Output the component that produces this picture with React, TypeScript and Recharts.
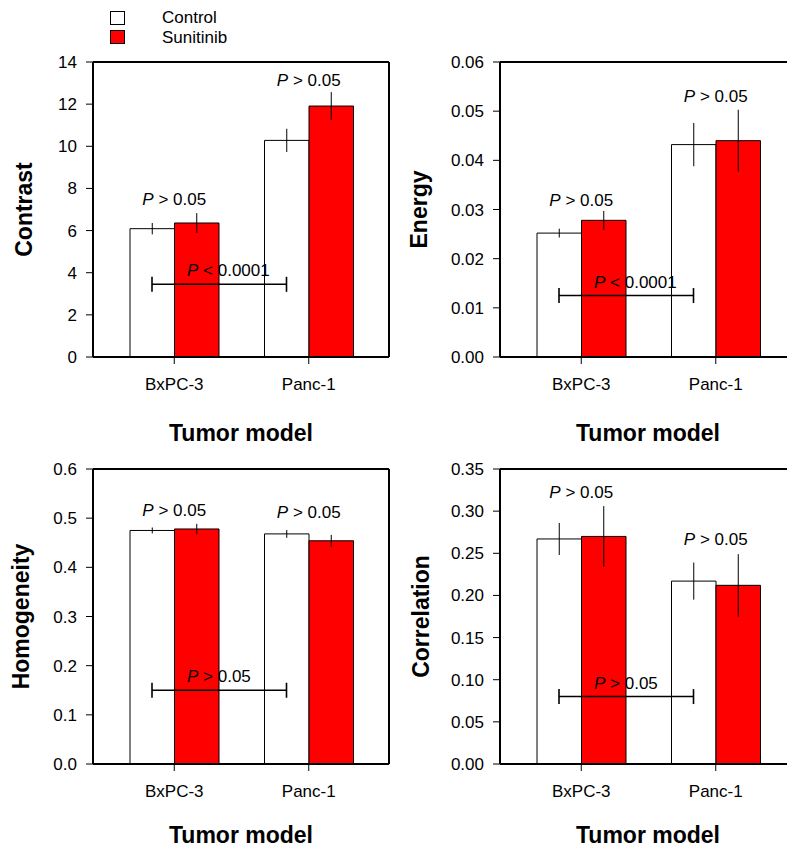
import React from "react";
import {
  BarChart,
  Bar,
  XAxis,
  YAxis,
  ErrorBar,
  ReferenceLine,
  ReferenceDot,
  Legend,
} from "recharts";

const categories = ["BxPC-3", "Panc-1"];
const seriesNames = ["Control", "Sunitinib"];
const seriesColors = ["#ffffff", "#ff0000"];

const contrastControl = [6.09, 10.28];
const contrastControlErr = [0.27, 0.55];
const contrastSunitinib = [6.36, 11.91];
const contrastSunitinibErr = [0.47, 0.66];
const contrastTicks = [0, 2, 4, 6, 8, 10, 12, 14];
const contrastGroupP = ["P > 0.05", "P > 0.05"];
const contrastGroupPY = [7.48, 13.13];
const contrastBracketY = 3.45;
const contrastBracketP = "P < 0.0001";

const energyControl = [0.0252, 0.0432];
const energyControlErr = [0.0009, 0.0044];
const energySunitinib = [0.0278, 0.044];
const energySunitinibErr = [0.0019, 0.0063];
const energyTicks = [0, 0.01, 0.02, 0.03, 0.04, 0.05, 0.06];
const energyGroupP = ["P > 0.05", "P > 0.05"];
const energyGroupPY = [0.032, 0.0531];
const energyBracketY = 0.0125;
const energyBracketP = "P < 0.0001";

const homogeneityControl = [0.475, 0.468];
const homogeneityControlErr = [0.006, 0.008];
const homogeneitySunitinib = [0.478, 0.454];
const homogeneitySunitinibErr = [0.0105, 0.012];
const homogeneityTicks = [0, 0.1, 0.2, 0.3, 0.4, 0.5, 0.6];
const homogeneityGroupP = ["P > 0.05", "P > 0.05"];
const homogeneityGroupPY = [0.5166, 0.513];
const homogeneityBracketY = 0.15;
const homogeneityBracketP = "P > 0.05";

const correlationControl = [0.267, 0.217];
const correlationControlErr = [0.019, 0.022];
const correlationSunitinib = [0.27, 0.212];
const correlationSunitinibErr = [0.036, 0.037];
const correlationTicks = [0, 0.05, 0.1, 0.15, 0.2, 0.25, 0.3, 0.35];
const correlationGroupP = ["P > 0.05", "P > 0.05"];
const correlationGroupPY = [0.323, 0.2666];
const correlationBracketY = 0.08;
const correlationBracketP = "P > 0.05";

const FONT = "Arial, 'Liberation Sans', sans-serif";
const BAR = 44.5;

function rows(c: number[], ce: number[], s: number[], se: number[]) {
  return categories.map((name, i) => ({
    name,
    control: c[i],
    controlErr: ce[i],
    sunitinib: s[i],
    sunitinibErr: se[i],
  }));
}

function PText({ x, y, text, anchor = "middle" }: any) {
  return (
    <text
      x={x}
      y={y}
      textAnchor={anchor}
      fontFamily={FONT}
      fontSize={17}
      fill="#000"
    >
      <tspan fontStyle="italic">{text.slice(0, 1)}</tspan>
      <tspan>{text.slice(1)}</tspan>
    </text>
  );
}

function Bracket(props: any) {
  const { x1, x2, y1, text } = props;
  const a = x1 - BAR / 2;
  const b = x2 - BAR / 2;
  return (
    <g>
      <line x1={a} y1={y1} x2={b} y2={y1} stroke="#000" strokeWidth={1.6} />
      <line x1={a} y1={y1 - 7.5} x2={a} y2={y1 + 7.5} stroke="#000" strokeWidth={1.6} />
      <line x1={b} y1={y1 - 7.5} x2={b} y2={y1 + 7.5} stroke="#000" strokeWidth={1.6} />
      <PText x={a + 35} y={y1 - 8} text={text} anchor="start" />
    </g>
  );
}

function LegendBox() {
  return (
    <div style={{ fontFamily: FONT, fontSize: 17, color: "#000" }}>
      {seriesNames.map((n, i) => (
        <div
          key={n}
          style={{ display: "flex", alignItems: "center", height: 19.5 }}
        >
          <span
            style={{
              display: "inline-block",
              width: 13,
              height: 12,
              border: "1px solid #000",
              background: seriesColors[i],
            }}
          />
          <span style={{ marginLeft: 37, lineHeight: "19px" }}>{n}</span>
        </div>
      ))}
    </div>
  );
}

interface PanelProps {
  left: number;
  top: number;
  data: any[];
  ticks: number[];
  digits: number;
  title: string;
  titleX: number;
  xTitleY: number;
  groupP: string[];
  groupPY: number[];
  bracketY: number;
  bracketP: string;
  legend?: boolean;
}

function Panel(p: PanelProps) {
  const domain = [0, p.ticks[p.ticks.length - 1]];
  const axisLine = { stroke: "#000", strokeWidth: 2 };
  const tickStyle = { fill: "#000", fontSize: 17, fontFamily: FONT };
  return (
    <div style={{ position: "absolute", left: p.left, top: p.top }}>
      <BarChart
        width={407}
        height={450}
        data={p.data}
        margin={{ top: 61, right: 17, left: 0, bottom: 8 }}
        barGap={0}
      >
        <XAxis
          dataKey="name"
          height={85}
          padding={{ left: 14, right: 13 }}
          axisLine={axisLine}
          tickLine={{ stroke: "#000", strokeWidth: 1 }}
          tickSize={7}
          tickMargin={14}
          tick={tickStyle}
          label={{
            content: (lp: any) => {
              const vb = lp.viewBox;
              return (
                <text
                  x={vb.x + vb.width / 2}
                  y={vb.y + p.xTitleY}
                  textAnchor="middle"
                  fontFamily={FONT}
                  fontWeight="bold"
                  fontSize={23}
                  fill="#000"
                >
                  Tumor model
                </text>
              );
            },
          }}
        />
        <XAxis
          xAxisId="top"
          orientation="top"
          dataKey="name"
          height={1}
          tick={false}
          tickLine={false}
          axisLine={axisLine}
        />
        <YAxis
          width={93}
          domain={domain}
          ticks={p.ticks}
          interval={0}
          axisLine={axisLine}
          tickLine={{ stroke: "#000", strokeWidth: 1 }}
          tickSize={7}
          tickMargin={9}
          tick={tickStyle}
          tickFormatter={(v: number) => v.toFixed(p.digits)}
          label={{
            content: (lp: any) => {
              const vb = lp.viewBox;
              const cy = vb.y + vb.height / 2;
              return (
                <text
                  x={p.titleX}
                  y={cy}
                  transform={`rotate(-90, ${p.titleX}, ${cy})`}
                  textAnchor="middle"
                  fontFamily={FONT}
                  fontWeight="bold"
                  fontSize={23}
                  fill="#000"
                >
                  {p.title}
                </text>
              );
            },
          }}
        />
        <YAxis
          yAxisId="right"
          orientation="right"
          width={1}
          domain={domain}
          tick={false}
          tickLine={false}
          axisLine={axisLine}
        />
        {p.legend && (
          <Legend
            layout="vertical"
            align="center"
            verticalAlign="middle"
            content={() => <LegendBox />}
            wrapperStyle={{ top: 8, left: 110, width: 200, height: 40 }}
          />
        )}
        <Bar
          dataKey="control"
          name={seriesNames[0]}
          fill={seriesColors[0]}
          stroke="#000"
          strokeWidth={1}
          barSize={BAR}
          isAnimationActive={false}
        >
          <ErrorBar
            dataKey="controlErr"
            width={0}
            stroke="#000"
            strokeWidth={1}
            direction="y"
          />
        </Bar>
        <Bar
          dataKey="sunitinib"
          name={seriesNames[1]}
          fill={seriesColors[1]}
          stroke="#000"
          strokeWidth={1}
          barSize={BAR}
          isAnimationActive={false}
        >
          <ErrorBar
            dataKey="sunitinibErr"
            width={0}
            stroke="#000"
            strokeWidth={1}
            direction="y"
          />
        </Bar>
        {categories.map((c, i) => (
          <ReferenceDot
            key={c}
            x={c}
            y={p.groupPY[i]}
            r={0}
            shape={(sp: any) => (
              <g transform={`translate(0, 6)`}>
                <PText x={sp.cx} y={sp.cy} text={p.groupP[i]} />
              </g>
            )}
          />
        ))}
        <ReferenceLine
          segment={[
            { x: categories[0], y: p.bracketY },
            { x: categories[1], y: p.bracketY },
          ]}
          shape={(lp: any) => <Bracket {...lp} text={p.bracketP} />}
        />
      </BarChart>
    </div>
  );
}

export default function App() {
  return (
    <div
      style={{
        position: "absolute",
        left: 0,
        top: 0,
        width: 787,
        height: 849,
        overflow: "hidden",
        background: "#fff",
      }}
    >
      <Panel
        left={0}
        top={0}
        data={rows(contrastControl, contrastControlErr, contrastSunitinib, contrastSunitinibErr)}
        ticks={contrastTicks}
        digits={0}
        title="Contrast"
        titleX={31.7}
        xTitleY={84}
        groupP={contrastGroupP}
        groupPY={contrastGroupPY}
        bracketY={contrastBracketY}
        bracketP={contrastBracketP}
        legend
      />
      <Panel
        left={407}
        top={0}
        data={rows(energyControl, energyControlErr, energySunitinib, energySunitinibErr)}
        ticks={energyTicks}
        digits={2}
        title="Energy"
        titleX={20}
        xTitleY={84}
        groupP={energyGroupP}
        groupPY={energyGroupPY}
        bracketY={energyBracketY}
        bracketP={energyBracketP}
      />
      <Panel
        left={0}
        top={407}
        data={rows(homogeneityControl, homogeneityControlErr, homogeneitySunitinib, homogeneitySunitinibErr)}
        ticks={homogeneityTicks}
        digits={1}
        title="Homogeneity"
        titleX={28.5}
        xTitleY={79}
        groupP={homogeneityGroupP}
        groupPY={homogeneityGroupPY}
        bracketY={homogeneityBracketY}
        bracketP={homogeneityBracketP}
      />
      <Panel
        left={407}
        top={407}
        data={rows(correlationControl, correlationControlErr, correlationSunitinib, correlationSunitinibErr)}
        ticks={correlationTicks}
        digits={2}
        title="Correlation"
        titleX={22.3}
        xTitleY={79}
        groupP={correlationGroupP}
        groupPY={correlationGroupPY}
        bracketY={correlationBracketY}
        bracketP={correlationBracketP}
      />
    </div>
  );
}
